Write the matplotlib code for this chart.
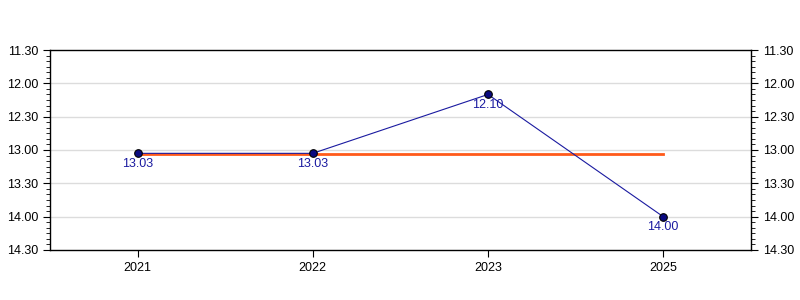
import matplotlib
matplotlib.use("Agg")
import matplotlib.pyplot as plt
from matplotlib.ticker import FixedLocator, MultipleLocator, FuncFormatter

plt.rcParams['font.family'] = ['Liberation Sans', 'DejaVu Sans']

years = ['2021', '2022', '2023', '2025']
times = ['13.03', '13.03', '12.10', '14.00']  # minutes.seconds
average = '13.04'
ytick_labels = ['11.30', '12.00', '12.30', '13.00', '13.30', '14.00', '14.30']

def to_sec(s):
    m, sec = s.split('.')
    return int(m) * 60 + int(sec)

def fmt(v, pos=None):
    v = int(round(v))
    return f"{v // 60}.{v % 60:02d}"

vals = [to_sec(t) for t in times]
avg = to_sec(average)
yt = [to_sec(t) for t in ytick_labels]

fig = plt.figure(figsize=(8, 3), dpi=100)
ax = fig.add_axes([0.0625, 0.1667, 0.876, 0.6666])
x = list(range(len(years)))

ax.set_xlim(-0.5, len(years) - 0.5)
ax.set_ylim(yt[-1], yt[0])

for v in yt[1:-1]:
    ax.axhline(v, color='#dcdcdc', lw=1, zorder=0)

ax.plot([x[0], x[-1]], [avg, avg], color='#ff5a1a', lw=2, zorder=2)
ax.plot(x, vals, color='#1a1aa0', lw=0.8, zorder=3)
ax.scatter(x, vals, s=30, color='#0a0a80', edgecolors='black', linewidths=0.8, zorder=4)
for xi, v, t in zip(x, vals, times):
    ax.annotate(t, (xi, v), xytext=(0, -7.5), textcoords='offset points',
                ha='center', va='center', color='#1a1aa0', fontsize=9)

ax.set_xticks(x)
ax.set_xticklabels(years, fontsize=9)
ax.yaxis.set_major_locator(FixedLocator(yt))
ax.yaxis.set_major_formatter(FuncFormatter(fmt))
ax.yaxis.set_minor_locator(MultipleLocator(5))
ax.tick_params(axis='y', which='both', left=True, right=True, labelleft=True, labelright=True, labelsize=9)
ax.tick_params(axis='y', which='major', length=5)
ax.tick_params(axis='y', which='minor', length=3)
ax.tick_params(axis='x', length=5, labelsize=9)
for sp in ax.spines.values():
    sp.set_color('black')
    sp.set_linewidth(1)

fig.savefig('out.png', dpi=100)
